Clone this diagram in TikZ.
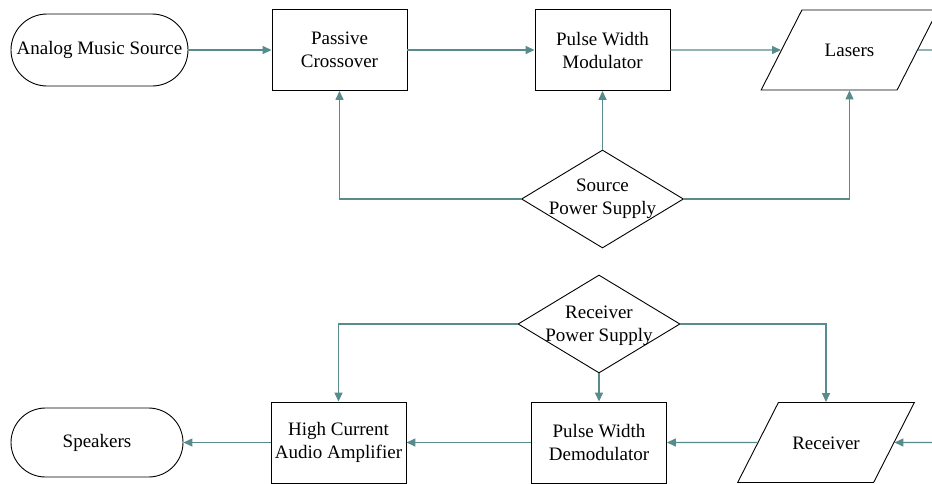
\documentclass[tikz,border=0pt]{standalone}
\usepackage{fontspec}
\setmainfont{Liberation Serif}
\usepackage{tikz}
\usetikzlibrary{arrows.meta,positioning,shapes.geometric}
\definecolor{slateteal}{RGB}{88,139,139}

\begin{document}
\begin{tikzpicture}
              [x=1pt,y=-1pt,
                every node/.style={draw,font=\fontsize{19pt}{23pt}\selectfont,align=center,inner sep=0pt,line width=0.9pt},
                block/.style={rectangle,minimum width=135pt,minimum height=81pt},
                terminal/.style={rectangle,rounded corners=36pt,minimum width=177pt,minimum height=72pt},
                io/.style={trapezium,trapezium left angle=63,trapezium right angle=117,text width=68pt,text height=13pt,text depth=0pt,inner xsep=13.6pt,inner ysep=33.5pt},
                power/.style={diamond,minimum width=162pt,minimum height=98pt},
                word/.style={draw=none,fill=none},
                link/.style={draw=slateteal,line width=1.4pt,-{Triangle[length=9pt,width=8pt]}}]
              \useasboundingbox (0,0) rectangle (932,483);
              \clip (0,0) rectangle (932,483);
              % source side
              \node[terminal] (analog) at (99.5,50) {Analog Music Source};
              \node[block] (passive) at (339.5,50) {Passive\\Crossover};
              \node[block] (pwm) at (602.5,50) {Pulse Width\\Modulator};
              \node[io] (lasers) at (849.5,50) {Lasers};
              \node[power] (srcps) at (602.5,199) {};
              \node[word] (srcpstext) at (srcps) {Source\\Power Supply};
              % receiver side
              \node[power] (rxps) at (599,324) {};
              \node[word] (rxpstext) at (599,326) {Receiver\\Power Supply};
              \node[terminal,rounded corners=34.5pt,minimum width=172pt,minimum height=69pt] (speakers) at (97,442.5) {Speakers};
              \node[block] (hcaa) at (338.5,442.5) {High Current\\Audio Amplifier};
              \node[block] (pwd) at (599,442.5) {Pulse Width\\Demodulator};
              \node[io] (receiver) at (826,442.5) {Receiver};
              \coordinate (rightrail) at (960,250);
              \foreach \from/\to in {analog/passive,passive/pwm,pwm/lasers,srcps/pwm,rxps/pwd,receiver/pwd,pwd/hcaa,hcaa/speakers}
              \draw[link] (\from) -- (\to);
              \foreach \from/\to in {srcps/passive,srcps/lasers,rxps/hcaa,rxps/receiver}
              \draw[link] (\from) -| (\to);
              \draw[link] (lasers) -- (lasers -| rightrail) -- (receiver -| rightrail) -- (receiver);
            \end{tikzpicture}
\end{document}
